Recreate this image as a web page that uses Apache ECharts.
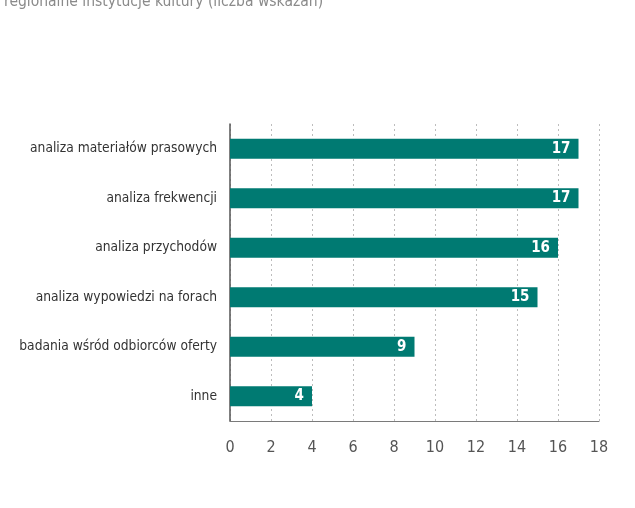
<!DOCTYPE html>
<html>
<head>
<meta charset="utf-8">
<script src="https://cdn.jsdelivr.net/npm/echarts@6/dist/echarts.min.js"></script>
<style>
  html, body { margin: 0; padding: 0; background: #fff; }
  #chart { width: 635px; height: 508px; }
</style>
</head>
<body>
<div id="chart"></div>
<script>
// data, top to bottom
var categories = [
  'analiza materiałów prasowych',
  'analiza frekwencji',
  'analiza przychodów',
  'analiza wypowiedzi na forach',
  'badania wśród odbiorców oferty',
  'inne'
];
var values = [17, 17, 16, 15, 9, 4];
var titleText = 'regionalne instytucje kultury (liczba wskazań)';

var FONT = '"Liberation Sans Narrow", "DejaVu Sans Condensed", sans-serif';

var chart = echarts.init(document.getElementById('chart'));

var option = {
  animation: false,
  title: {
    text: titleText,
    left: -1,
    top: -11,
    textStyle: { fontFamily: FONT, fontSize: 15.5, fontWeight: 'normal', color: '#8a8a8a' }
  },
  grid: { left: 230, right: 36, top: 124, bottom: 87 },
  xAxis: {
    type: 'value',
    min: 0,
    max: 18,
    interval: 2,
    axisLine: { show: true, lineStyle: { color: '#7a7a7a', width: 1 } },
    axisTick: { show: false },
    axisLabel: { fontFamily: FONT, fontSize: 16, color: '#555', margin: 19 },
    splitLine: { show: true, lineStyle: { type: [2, 3], color: '#bdbdbd' } }
  },
  yAxis: {
    type: 'category',
    inverse: true,
    data: categories,
    axisLine: { show: true, lineStyle: { color: '#555', width: 1.5 } },
    axisTick: { show: false },
    axisLabel: { fontFamily: FONT, fontSize: 13.7, color: '#333', margin: 13 }
  },
  series: [{
    type: 'bar',
    data: values,
    barWidth: 20,
    itemStyle: { color: '#007a72' },
    label: {
      show: true,
      position: 'insideRight',
      distance: 8,
      fontFamily: FONT,
      fontSize: 15,
      fontWeight: 'bold',
      color: '#fff'
    }
  }]
};

chart.setOption(option);
</script>
</body>
</html>
